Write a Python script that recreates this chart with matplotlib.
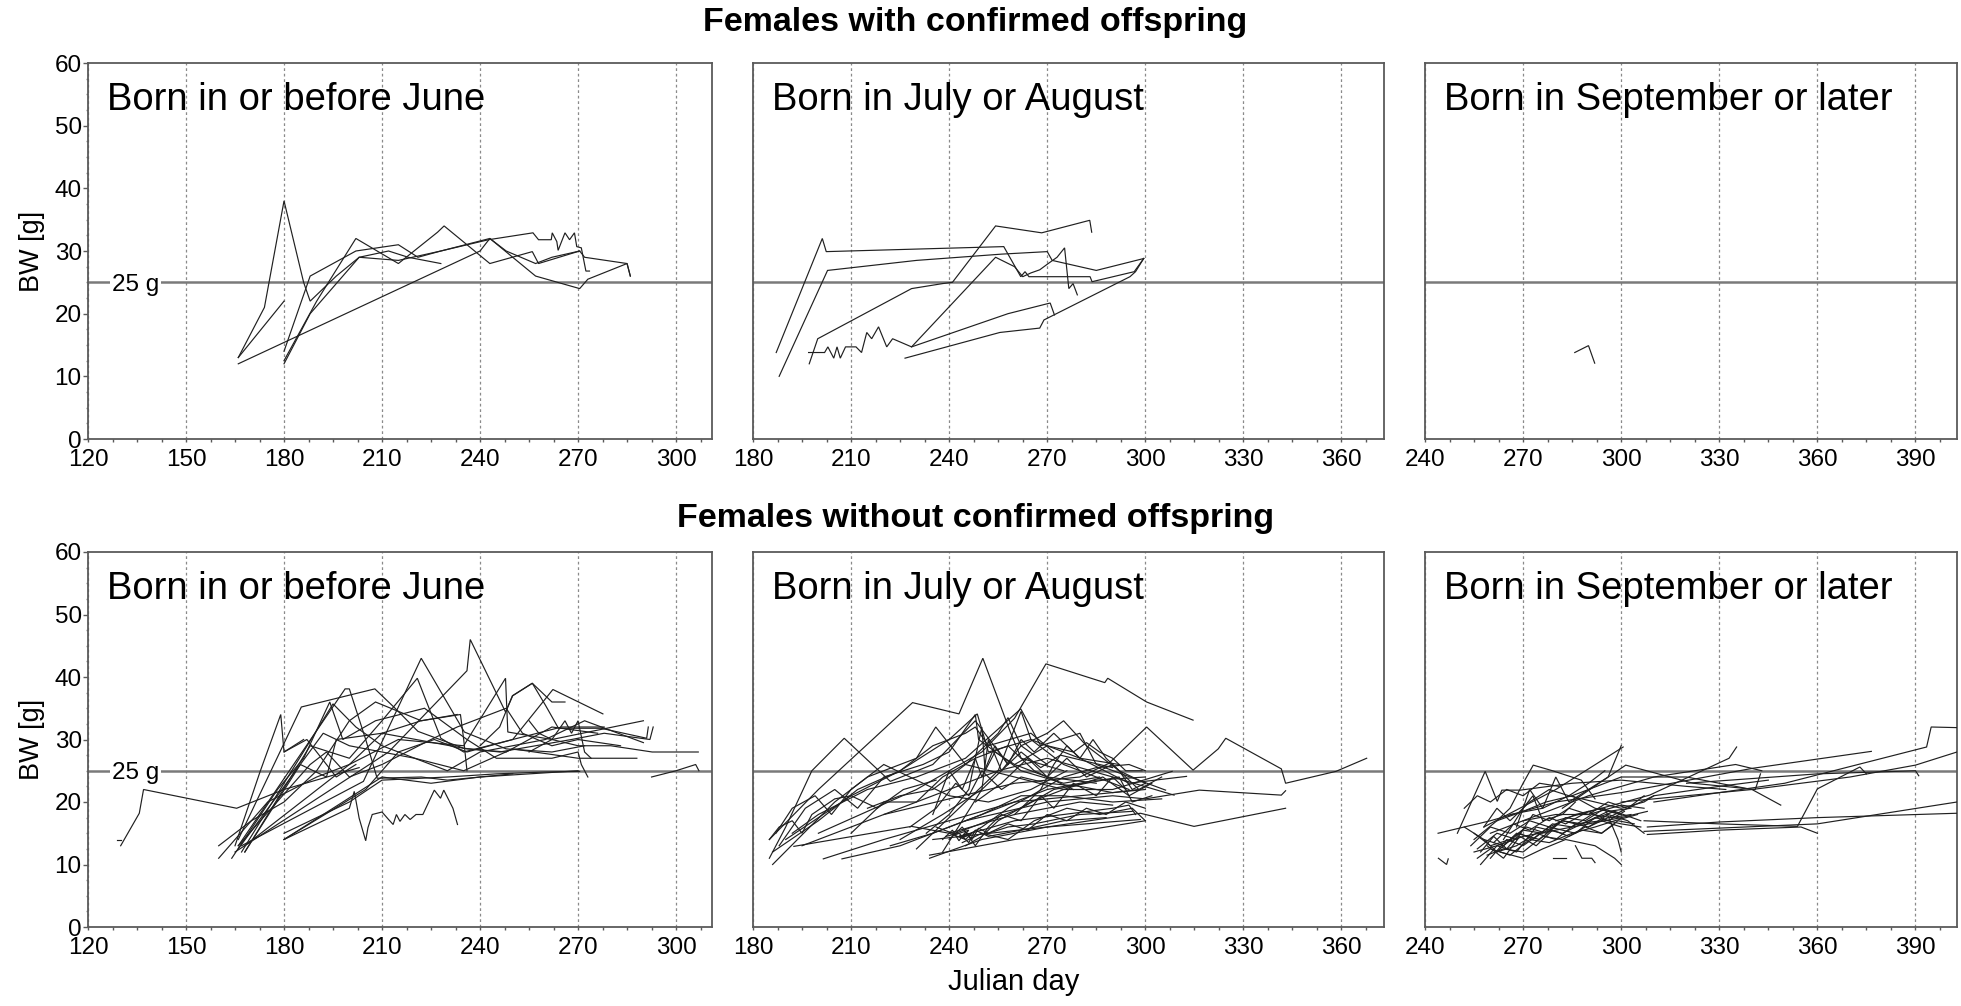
import matplotlib
matplotlib.use("Agg")
import matplotlib.pyplot as plt
from matplotlib.ticker import MultipleLocator

plt.rcParams['font.family'] = ['Liberation Sans', 'DejaVu Sans']

# ---------------- data ----------------
ROW_TITLES = ["Females with confirmed offspring", "Females without confirmed offspring"]
PANEL_LABELS = ["Born in or before June", "Born in July or August", "Born in September or later"]
X_LIMITS = [(120, 311), (180, 373), (240, 402.7)]
X_TICKS = [[120, 150, 180, 210, 240, 270, 300],
           [180, 210, 240, 270, 300, 330, 360],
           [240, 270, 300, 330, 360, 390]]
Y_TICKS = [0, 10, 20, 30, 40, 50, 60]
THRESHOLD = 25

# each trajectory: list of (julian day, body weight g)
TL_LINES = [
    [(166, 13), (174, 21), (180, 38), (186, 25), (188, 22), (196, 26), (203, 29), (212, 30), (218, 29), (228, 28)],
    [(166, 13), (180, 22)],
    [(166, 12), (240, 30), (243, 32), (257, 26), (270.5, 24), (273, 25.5), (285, 28), (286, 26)],
    [(180, 12), (188, 20), (203, 29), (215, 28.5), (228, 30), (242.6, 31.8), (256.2, 32.9), (257.9, 31.8),
     (261.8, 31.8), (262.1, 32.9), (263.5, 31.5), (263.9, 30.1), (266, 32.9), (267.4, 31.8), (268.9, 32.9),
     (269.6, 30.7), (271, 30.5), (272.4, 26.8), (273.5, 26.8)],
    [(180, 14), (188, 26), (202, 30), (215, 31), (221, 29), (228, 30), (243, 32), (248, 30), (257, 28),
     (262, 29), (270.5, 30), (272, 29), (285, 28), (286, 26)],
    [(180, 12.5), (190, 22), (202, 32), (215, 28), (227, 33), (229, 34), (243, 28), (256, 29.9),
     (257.9, 28), (270.5, 30)],
]

TM_LINES = [
    [(187.1, 13.8), (201.2, 32.0), (202.4, 29.9), (256.7, 30.7), (261.9, 25.9), (263.2, 26.7), (264.4, 25.9),
     (268, 25.9), (283.1, 25.9), (283.7, 25.1), (296.6, 26.7), (299.5, 28.8)],
    [(188, 10), (202.8, 26.9), (230, 28.5), (256, 29.5), (270, 29.9), (271.5, 28.5), (285, 26.9), (299.5, 28.8)],
    [(197.2, 12), (199.8, 16), (228.5, 24), (238, 24.8), (241, 25), (254.2, 34), (268.3, 32.9), (283, 34.9),
     (283.6, 33)],
    [(197, 13.8), (201.9, 13.8), (202.9, 14.7), (204.7, 12.9), (205.7, 14.7), (206.7, 12.9), (208.3, 14.7),
     (211.5, 14.7), (213.2, 13.8), (214.8, 17), (216.3, 16), (218.4, 17.9), (220.9, 14.7), (222.7, 16),
     (228.5, 14.7), (254.2, 29), (260, 27.5), (262.5, 25.9), (265, 26.5), (267.7, 27), (270.3, 28),
     (273, 29), (275.3, 30.5), (276.6, 24), (277.9, 24.8), (279.2, 23)],
    [(226.5, 12.9), (255.5, 17), (267.7, 17.7), (269, 19), (295.3, 25.9), (297, 26.7), (299.5, 28.8)],
    [(228.5, 14.7), (258, 20), (270.9, 21.7), (272.2, 19.8)],
]

TR_LINES = [
    [(285.8, 13.8), (290, 14.9), (291.9, 12.1)],
]

BL_LINES = [
    [(129, 14), (130, 14)],
    [(130, 13), (135.7, 18.2), (137, 22), (165.5, 19), (180, 22), (203, 25.5)],
    [(165, 13), (172.7, 24.9), (179, 34), (180, 28), (187, 30), (196, 24), (202, 26)],
    [(166, 14), (185.3, 35.2), (207.8, 38.1), (214, 35), (221, 31.3), (235, 28.6), (246, 28), (268, 30),
     (278, 31), (292, 30), (293, 32)],
    [(166, 13), (198.7, 38.1), (200, 38.1), (205, 30), (208.5, 23.8), (222, 24), (230, 23.5), (250, 24.5)],
    [(167, 12), (195, 35.7), (202, 32), (210, 29), (230, 25), (240, 28), (260, 30), (272, 33), (290, 29.5)],
    [(166, 12.5), (192, 31), (200, 29), (210, 28), (220, 27), (235, 25), (250, 28.5), (270, 27), (288, 27)],
    [(167, 13), (204.3, 23.3), (222, 43), (235.2, 31.2), (248, 28.5), (262, 28), (272, 29)],
    [(168, 12), (188, 29), (200, 27), (210, 33), (220.8, 39.8), (228, 30.2), (235, 28), (250, 30), (265, 32),
     (278, 32)],
    [(165, 12), (212, 28), (236, 41), (237, 46), (247.8, 34.4), (250, 37), (256, 39), (260, 35.5),
     (264, 31.8), (277, 31.8), (291, 30.2), (291.5, 32)],
    [(168, 13), (200, 26), (215, 30), (235, 29), (247.8, 39.8), (248.5, 31.2), (262, 30), (290, 33)],
    [(180, 14), (210, 24), (225, 23), (240, 24), (270, 25)],
    [(180, 14), (200, 19), (201.5, 21.7), (203, 17.4), (205, 13.8), (205.7, 15.9), (207, 18), (210, 18.4),
     (212, 17.2), (213.4, 16.4), (214.4, 18), (215.5, 16.9), (217, 18), (218.6, 17.2), (220.4, 18),
     (222.5, 18), (226, 21.9), (227.9, 20.6), (228.9, 21.9), (231.7, 19), (233.1, 16.4)],
    [(160, 13), (170, 17), (180, 20), (190, 25), (195, 29), (200, 33), (208, 36), (222, 33), (234, 34),
     (235, 30), (236, 25)],
    [(160, 11), (175, 20), (190, 24), (200, 26), (210, 31), (222, 33), (233, 34)],
    [(164, 11), (178, 22), (186, 27), (194, 36), (198, 30), (208, 33), (223, 35), (236, 30), (245, 27),
     (262, 27), (270, 28), (271, 26), (273, 24)],
    [(168, 12), (185, 26), (193, 24), (196, 30), (210, 31), (236, 28.5), (248, 28), (262, 32), (276, 31)],
    [(180, 28), (186, 30)],
    [(180, 14), (205, 22), (215, 28), (226, 30), (236, 28), (250, 30), (262.3, 38), (277.6, 34.1)],
    [(240, 29), (246, 32), (249.9, 37), (256, 39), (262, 36), (266, 36)],
    [(255, 33), (258, 31), (262, 30), (270, 29), (280, 29), (292.7, 28), (306.8, 28)],
    [(292.5, 24), (300, 25), (306, 26), (307, 25)],
    [(255, 28), (262, 30), (266, 33), (268, 31), (270, 33), (272, 28), (274, 27)],
    [(166, 13), (188, 26), (193, 28), (200, 24), (210, 26), (225, 30), (233, 32), (248, 35), (253, 31),
     (262, 29), (270, 30), (283, 29)],
    [(180, 15), (200, 20), (210, 23.5), (230, 24), (245, 24.5), (260, 24.8), (270.5, 24.9)],
]

BM_LINES = [
    [(185, 11), (190, 16), (198, 25), (207.9, 30.2), (222, 23.3), (235, 26), (248, 33), (258, 26)],
    [(185, 14), (200, 22), (228.8, 35.9), (243, 34.1), (250.3, 43), (258.7, 31.2), (262, 27), (275, 25)],
    [(200, 15), (230, 22), (250, 28), (260, 33.4), (269.6, 42.1), (287.6, 39.1), (288.5, 39.8), (300.4, 36),
     (314.6, 33.1)],
    [(220, 18), (260, 23), (280, 24), (288.9, 26.2), (300.4, 32), (314.6, 25.1), (322.3, 28.5), (324.6, 30.2),
     (341.6, 25.3), (342.9, 23), (358.3, 24.9), (367.7, 27)],
    [(245, 17), (270, 20), (290, 21), (300, 20.5), (316.5, 21.9), (341.6, 21.1), (342.9, 21.8)],
    [(235, 14), (270, 16), (298.5, 18.2), (314.9, 16.1), (342.9, 19)],
    [(186, 10), (205, 20), (215, 24), (230, 27), (235.9, 32), (245, 26), (260, 24), (275, 22), (290, 22),
     (308.2, 24.9)],
    [(190, 14), (210, 21), (225, 25), (240, 30), (248.6, 34.1), (252, 28), (265, 30), (280, 27), (295, 23),
     (312.6, 24.1)],
    [(192, 15), (200, 18), (215, 22), (230, 24), (245, 27), (261.9, 34.9), (268, 29), (280, 31), (285, 26),
     (306.2, 21.9)],
    [(195, 13), (220, 18), (240, 22), (255, 25), (270, 27), (290, 24), (308.8, 21.1)],
    [(234, 11), (250, 14), (270, 16), (298.5, 17.2)],
    [(240, 15), (245, 14), (247, 15), (243, 14.5), (250, 15.5), (260, 17), (275, 18), (290, 19), (295, 19.5),
     (297, 18)],
    [(185, 14), (188, 16), (192, 17), (195, 15), (198, 18), (205, 20.5), (210, 21), (218, 19), (226, 22),
     (236, 23.5)],
    [(186, 12), (200, 17), (212, 22), (225, 25), (235, 29), (245, 31), (248, 32), (252, 29), (265, 31),
     (272, 28)],
    [(188, 13), (196, 19), (205, 22), (212, 19), (220, 24), (232, 26), (240, 28), (248, 34), (249, 30),
     (262, 25), (275, 23), (286, 24)],
    [(201.5, 10.9), (220, 14), (240, 17), (260, 20), (280, 21), (300, 22)],
    [(207.2, 10.9), (225, 13), (240, 16), (255, 19), (270, 22), (285, 23.5), (300, 24)],
    [(192.5, 12.9), (228.5, 16.1), (240, 15), (260, 18), (280, 20), (290, 19.5)],
    [(236, 16), (242, 14.8), (246, 15.5), (244, 14.2), (250, 16), (258, 19), (265, 21), (275, 24),
     (285, 25.5), (295, 26), (300, 25)],
    [(225, 14), (238, 18), (250, 22), (258, 26), (262, 30), (266, 28), (272, 31), (280, 27), (292, 26)],
    [(230, 12.5), (245, 20), (255, 25), (262, 34.5), (265, 30), (275, 26), (285, 24), (295, 22)],
    [(238, 12), (250, 22), (252, 30), (256, 25), (262, 29), (270, 31), (275, 33), (282, 29), (292, 25),
     (300, 23)],
    [(245, 13), (250, 14.5), (255, 17), (265, 20), (275, 22), (287, 24), (295, 21), (302, 23)],
    [(210, 15), (220, 20), (230, 20), (238, 24), (248, 27), (258, 29), (266, 25), (278, 22)],
    [(187, 15), (192, 19), (199, 21), (204, 18), (210, 22), (220, 26), (228, 24), (240, 21), (252, 20),
     (265, 22), (276, 25)],
    [(240, 14), (244, 16), (248, 13), (252, 16), (256, 18), (262, 17), (268, 21), (272, 19), (278, 23),
     (285, 21), (290, 24), (294, 22)],
    [(260, 18), (268, 22), (272, 26), (276, 29), (280, 27), (284, 30), (288, 27), (292, 25), (296, 22),
     (300, 23)],
    [(215, 19), (225, 21), (235, 22), (245, 26), (255, 31), (258, 33.5), (262, 29), (270, 26)],
    [(233, 15), (240, 18), (246, 22), (250, 32), (251, 25), (254, 28), (260, 26), (270, 24), (285, 23)],
    [(242, 15), (252, 17), (262, 19), (272, 22), (282, 23), (292, 24), (296, 20), (302, 21)],
    [(260, 26), (270, 29), (278, 28), (282, 29.5), (286, 28), (290, 27), (294, 25), (299, 25)],
    [(248, 20), (256, 23), (264, 27), (270, 24), (276, 27), (282, 24), (290, 26), (298, 22), (305, 24)],
    [(222, 13), (235, 15), (250, 18), (262, 21), (275, 21), (290, 20), (305, 20.5)],
    [(244, 13.5), (250, 15), (258, 14), (266, 17), (276, 19), (286, 18), (296, 19), (300, 17)],
    [(235, 18), (240, 25), (244, 22), (248, 27), (250, 24), (254, 29), (258, 26), (262, 28), (268, 25.5),
     (274, 27.5), (282, 26.5), (290, 25.5)],
    [(228, 16), (236, 19), (242, 23), (246, 21), (250, 25), (256, 22), (262, 24), (270, 23), (280, 22.5),
     (290, 21.5), (298, 22)],
    [(252, 15), (258, 16.5), (264, 15.5), (270, 18), (276, 17), (282, 19), (288, 18), (294, 20), (300, 19)],
    [(238, 14), (241, 15.5), (243, 13.8), (245, 15.2), (247, 14), (249, 15.8), (252, 15), (258, 16),
     (266, 16.5), (280, 18), (296, 18.5)],
    [(234, 11.5), (260, 14), (282, 15.5), (300, 17)],
    [(239, 14.5), (243, 15), (246, 13.5), (248, 15.5), (252, 14.5), (262, 15.5), (275, 17), (288, 17.5)],
]

BR_LINES = [
    [(244.1, 11), (246.6, 10), (247.1, 10.9)],
    [(244, 15), (260, 17), (280, 20), (300, 21.5), (340.3, 25.4), (376.5, 28.1)],
    [(258, 16), (280, 22), (300.6, 28.8)],
    [(249.9, 15), (258.4, 24.9), (262.1, 20.1), (263.5, 21.9), (269.2, 21.9), (285, 23), (300, 23.5),
     (320, 22.5), (332, 22)],
    [(262, 17), (266, 19), (270, 23), (273.1, 25.9), (279, 25), (287.8, 23.5), (292, 20.5)],
    [(282, 19), (301.4, 25.9), (322, 23), (341, 22), (342.6, 24.5)],
    [(307, 15.3), (360, 16.5), (402.7, 20)],
    [(308, 16), (330, 16.8), (360, 17.5), (402.7, 18.2)],
    [(280, 17), (308.7, 21.1), (333, 27), (335.3, 28.8)],
    [(307, 17), (330, 16.5), (353.9, 16.1), (360, 22.1), (373, 25.6), (375, 24.5)],
    [(310, 20), (350, 23), (393.4, 28.8), (394.8, 32), (402.7, 31.9)],
    [(300, 20), (340, 22), (370, 24), (390, 25.9), (402.7, 28)],
    [(320, 23), (360, 24.5), (390, 25), (391, 24.2)],
    [(255, 12), (262, 13), (270, 14.5), (280, 15.5), (290, 16.5), (300, 17.5), (308, 18.5)],
    [(256, 11), (260, 12.5), (266, 11.5), (272, 14), (278, 13.5), (285, 15), (292, 16), (298, 17), (305, 18)],
    [(258, 14), (264, 13), (270, 15.5), (276, 15), (282, 17), (288, 16.5), (296, 18.5), (303, 19)],
    [(252, 16), (258, 14), (262, 12), (268, 13), (274, 15), (280, 14), (286, 16.5), (294, 17), (300, 16)],
    [(257, 10), (262, 13), (268, 12), (274, 16), (282, 15), (290, 17), (298, 18.5), (306, 17)],
    [(254, 13), (260, 16), (266, 15), (272, 17), (278, 16), (286, 18), (294, 19), (300, 18)],
    [(260, 11), (265, 14), (270, 13), (278, 16), (286, 15), (292, 17.5), (300, 16.5), (306, 16)],
    [(262, 12), (268, 15), (275, 14), (282, 17), (290, 16), (296, 18), (302, 17), (307, 15)],
    [(258, 16), (262, 19), (266, 17), (272, 20), (278, 22), (284, 21), (290, 23), (295, 25)],
    [(255, 14), (262, 17), (270, 18.5), (277, 20), (285, 21), (292, 19), (300, 18)],
    [(263, 12), (270, 11), (276, 12.5), (283, 14), (292, 13), (298, 11), (300, 10)],
    [(279, 11), (283, 11)],
    [(286, 13), (288, 11), (291, 11), (292, 10.3)],
    [(252, 19), (256, 21), (260, 20), (265, 22), (270, 21), (275, 23), (281, 22.5)],
    [(266, 18), (276, 19), (284, 21), (292, 20), (300, 19), (307, 20), (310, 21)],
    [(270, 17), (280, 18), (290, 18), (300, 19.5), (307, 19)],
    [(308, 14.8), (330, 15.5), (355, 16), (360, 15)],
    [(285, 21), (300, 24), (320, 24), (340, 22), (348.8, 19.5)],
    [(260, 15), (290, 21), (310, 24), (335, 26), (343, 25)],
    [(290, 16), (310, 21), (330, 22.5), (345, 23.5)],
    [(264, 14), (270, 19), (273, 21), (276, 17), (282, 18), (286, 20)],
    [(256, 12.5), (262, 15), (268, 14), (273, 18), (278, 17), (284, 19), (290, 18), (296, 20), (302, 19),
     (307, 21)],
    [(259, 13), (264, 11), (269, 14.5), (274, 13), (279, 15.5), (284, 14.5), (289, 16), (294, 15),
     (299, 17), (304, 16.5)],
    [(268, 16), (272, 22), (276, 19), (280, 24), (284, 20), (290, 22), (296, 24), (300, 29)],
    [(257, 12), (261, 14.5), (265, 12.5), (269, 15), (273, 14), (279, 16.5), (285, 16), (291, 18),
     (297, 17.5), (303, 18)],
    [(259, 11.5), (264, 12.5), (270, 12), (276, 14.5), (282, 14), (288, 15.5), (294, 15), (298, 16.5)],
    [(261, 13.5), (267, 16.5), (272, 15.5), (278, 17.5), (283, 16.5), (290, 18.5), (296, 17), (301, 18.5)],
    [(255, 15), (260, 13), (266, 14), (271, 16), (277, 15), (283, 17.5), (289, 17), (295, 19), (299, 14),
     (300, 12)],
]

PANELS = [[TL_LINES, TM_LINES, TR_LINES], [BL_LINES, BM_LINES, BR_LINES]]

# ---------------- layout ----------------
W, H = 1961, 1006
fig = plt.figure(figsize=(W / 100, H / 100), dpi=100)

col_px = [(88, 712), (753, 1384), (1425, 1957)]
row_px = [(63, 439), (552, 927)]

SPINE = '#5a5a5a'
LINE = '#202020'

for r in range(2):
    for c in range(3):
        x0, x1 = col_px[c]
        y0, y1 = row_px[r]
        ax = fig.add_axes([x0 / W, 1 - y1 / H, (x1 - x0) / W, (y1 - y0) / H])
        ax.set_xlim(*X_LIMITS[c])
        ax.set_ylim(0, 60)
        for s in ax.spines.values():
            s.set_color(SPINE)
            s.set_linewidth(1.3)
        ax.set_xticks(X_TICKS[c])
        ax.xaxis.set_minor_locator(MultipleLocator(7.5))
        ax.tick_params(axis='x', which='both', direction='out', length=2.5, width=1,
                       color=SPINE, labelsize=17.5, pad=5)
        if c == 0:
            ax.set_yticks(Y_TICKS)
            ax.yaxis.set_minor_locator(MultipleLocator(2.5))
            ax.tick_params(axis='y', which='major', direction='out', length=3.5, width=1,
                           color=SPINE, labelsize=17.5, pad=1)
            ax.tick_params(axis='y', which='minor', direction='out', length=1.2, width=1,
                           color='#888888')
            ax.set_ylabel('BW [g]', fontsize=19.5, labelpad=7)
        else:
            ax.set_yticks([])
        for t in X_TICKS[c]:
            ax.axvline(t, color='#8a8a8a', lw=0.9, ls=(0, (2.2, 2.2)), zorder=1)
        ax.axhline(THRESHOLD, color='#7a7a7a', lw=1.8, zorder=2)
        if c == 0:
            ax.annotate('25 g', xy=(0, THRESHOLD), xycoords=('axes fraction', 'data'),
                        xytext=(17, 0), textcoords='offset points', fontsize=17.5,
                        va='center_baseline', ha='left', zorder=3,
                        bbox=dict(boxstyle='square,pad=0.08', fc='white', ec='none'))
        for traj in PANELS[r][c]:
            xs = [p[0] for p in traj]
            ys = [p[1] for p in traj]
            ax.plot(xs, ys, color=LINE, lw=0.85, zorder=4, solid_joinstyle='miter')
        ax.annotate(PANEL_LABELS[c], xy=(0, 1), xycoords='axes fraction',
                    xytext=(13.5, -14), textcoords='offset points',
                    fontsize=27.5, ha='left', va='top', zorder=5)

fig.text(0.4975, 1 - 31 / H, ROW_TITLES[0], fontsize=24.5, fontweight='bold',
         ha='center', va='baseline')
fig.text(0.4975, 1 - 527 / H, ROW_TITLES[1], fontsize=24.5, fontweight='bold',
         ha='center', va='baseline')
fig.text(1014 / W, 1 - 990 / H, 'Julian day', fontsize=21, ha='center', va='baseline')

fig.savefig('out.png', dpi=100, facecolor='white')
